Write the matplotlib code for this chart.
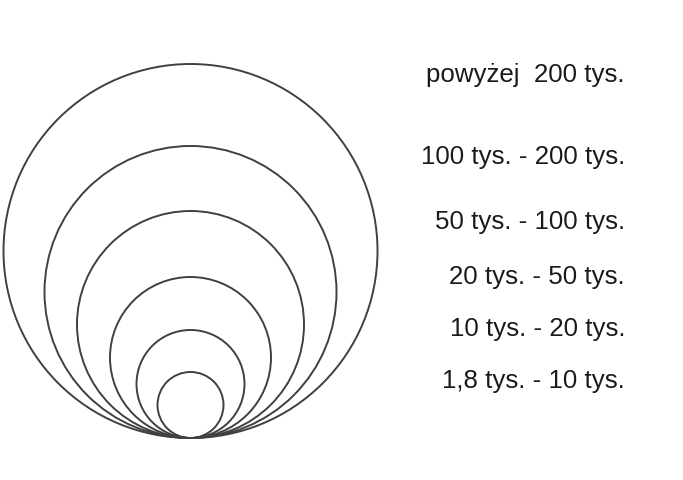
import matplotlib.pyplot as plt
from matplotlib.patches import Circle

# size classes (largest first) and the radius of each circle, in pixels
labels = [
    "powyżej  200 tys.",
    "100 tys. - 200 tys.",
    "50 tys. - 100 tys.",
    "20 tys. - 50 tys.",
    "10 tys. - 20 tys.",
    "1,8 tys. - 10 tys.",
]
radii = [187, 146, 113.5, 80.5, 54, 33]
label_y = [75, 157, 222, 277, 329, 381]

W, H = 683, 480
fig = plt.figure(figsize=(W / 100, H / 100), dpi=100)
ax = fig.add_axes([0, 0, 1, 1])
ax.set_xlim(0, W)
ax.set_ylim(H, 0)
ax.set_aspect("equal")
ax.axis("off")

# all circles sit on the same bottom point
cx, bottom = 190.5, 438
for r in radii:
    ax.add_patch(Circle((cx, bottom - r), r, fill=False, edgecolor="#404040", linewidth=1.4))

for text, y in zip(labels, label_y):
    ax.text(625, y, text, ha="right", va="center", fontsize=18.6,
            family="Liberation Sans", color="#1a1a1a")

fig.savefig("out.png", dpi=100)
